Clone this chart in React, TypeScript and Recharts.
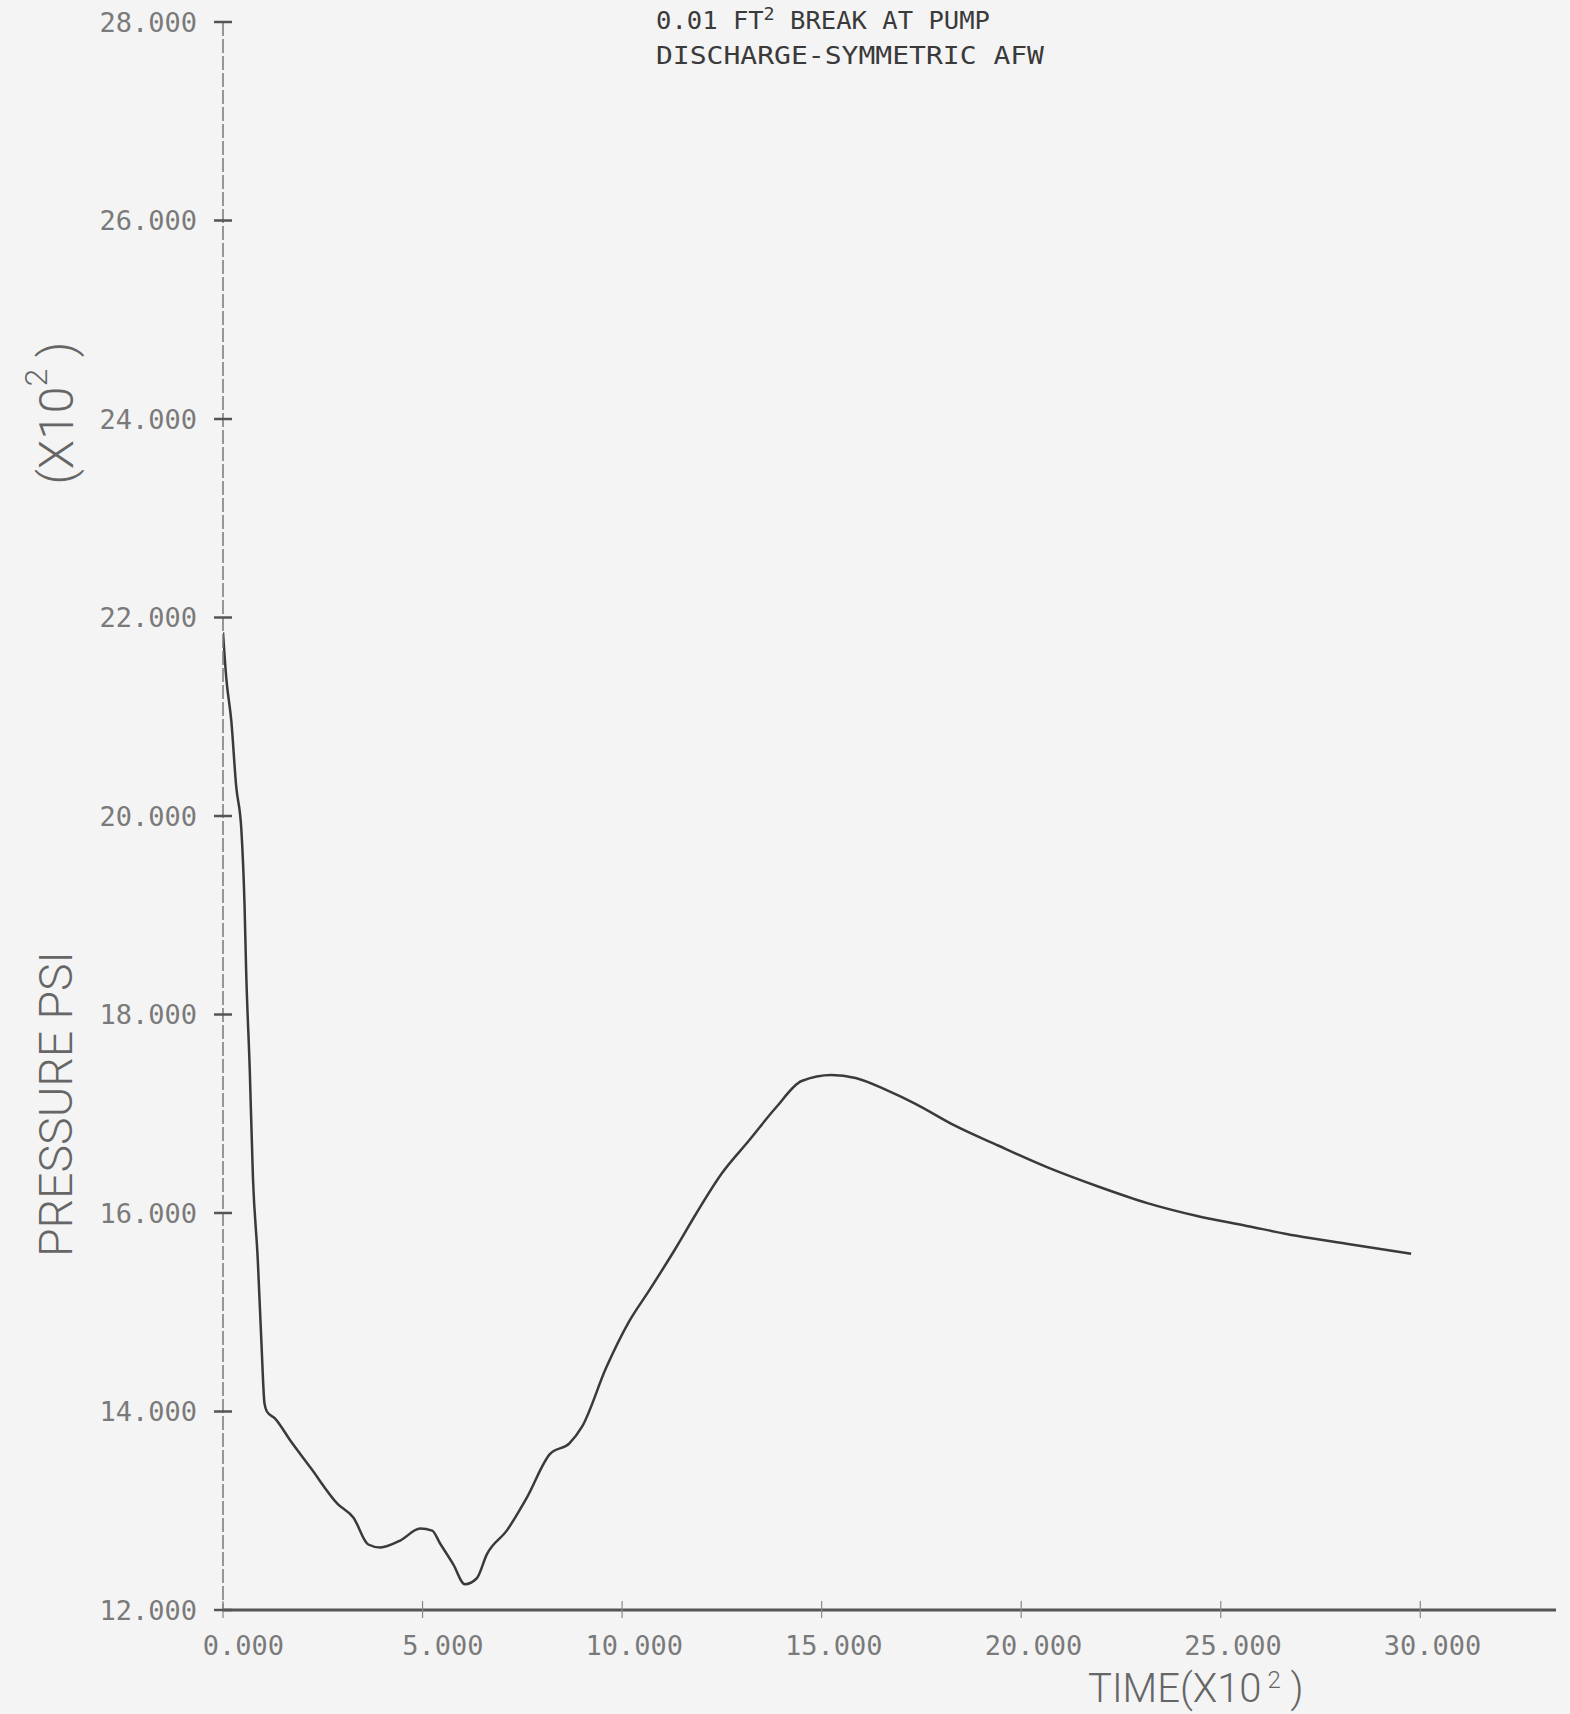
import React from 'react';
import { LineChart, Line, XAxis, YAxis } from 'recharts';

// time (x10^2 s) and pressure (x10^2 psi)
const times = [
    0.0, 0.08, 0.21, 0.33, 0.46, 0.54, 0.58, 0.67, 0.75, 0.87, 0.96, 1.04, 1.1, 1.3,
    1.7, 2.2, 2.87, 3.27, 3.64, 3.94, 4.44, 4.94, 5.24, 5.44, 5.77, 6.06, 6.36, 6.61,
    7.11, 7.61, 8.19, 8.68, 9.0, 9.6, 10.18, 10.68, 11.35, 11.85, 12.5, 13.18, 13.85,
    14.5, 15.25, 15.85, 16.67, 17.35, 18.34, 19.42, 20.66, 21.91, 23.16, 24.41, 25.65,
    26.9, 28.15, 29.77
];
const pressures = [
    21.85, 21.4, 20.95, 20.3, 19.86, 19.1, 18.44, 17.45, 16.36, 15.54, 14.72, 14.08, 14.0, 13.93,
    13.7, 13.43, 13.07, 12.93, 12.66, 12.63, 12.7, 12.82, 12.8, 12.67, 12.46, 12.26, 12.32, 12.56,
    12.8, 13.13, 13.57, 13.68, 13.85, 14.44, 14.91, 15.22, 15.65, 15.99, 16.4, 16.73, 17.06,
    17.33, 17.39, 17.36, 17.23, 17.1, 16.88, 16.68, 16.46, 16.27, 16.1, 15.97, 15.87,
    15.77, 15.69, 15.59
];
const xTicks = [0, 5, 10, 15, 20, 25, 30];
const yTicks = [12, 14, 16, 18, 20, 22, 24, 26, 28];

const data = times.map((t, i) => ({ t, p: pressures[i] }));

const W = 1570;
const H = 1714;
const MONO = '"DejaVu Sans Mono", "Liberation Mono", monospace';
const THIN = 'Roboto, "DejaVu Sans", sans-serif';

const YTick = ({ x, y, payload }: any) => (
    <g>
        <line x1={x - 9} x2={x + 9} y1={y} y2={y} stroke="#555" strokeWidth={2.5} />
        <text x={x - 26} y={y} textAnchor="end" dominantBaseline="central"
            fontFamily={MONO} fontSize={27} fill="#7a7a7a">
            {payload.value.toFixed(3)}
        </text>
    </g>
);

const XTick = ({ x, y, payload }: any) => (
    <g>
        <line x1={x} x2={x} y1={y - 9} y2={y + 8} stroke="#888" strokeWidth={1.2} />
        <text x={x + 61} y={y + 35} textAnchor="end" dominantBaseline="central"
            fontFamily={MONO} fontSize={27} fill="#7a7a7a">
            {payload.value.toFixed(3)}
        </text>
    </g>
);

export default function App() {
    return (
        <div style={{ position: 'absolute', left: 0, top: 0, width: W, height: H, background: '#f4f4f4' }}>
            <LineChart width={W} height={H} data={data}
                margin={{ top: 22, right: 14, bottom: 44, left: 0 }}>
                <XAxis
                    dataKey="t"
                    type="number"
                    domain={[0, 33.4]}
                    ticks={xTicks}
                    interval={0}
                    height={60}
                    tickSize={0}
                    tickMargin={0}
                    tickLine={false}
                    axisLine={{ stroke: '#555', strokeWidth: 3 }}
                    tick={<XTick />}
                    allowDataOverflow
                />
                <YAxis
                    type="number"
                    domain={[12, 28]}
                    ticks={yTicks}
                    interval={0}
                    width={223}
                    tickSize={0}
                    tickMargin={0}
                    tickLine={false}
                    axisLine={{ stroke: '#777', strokeWidth: 1.5, strokeDasharray: '14 3' }}
                    tick={<YTick />}
                    allowDataOverflow
                />
                <Line
                    type="monotone"
                    dataKey="p"
                    stroke="#3a3a3a"
                    strokeWidth={2.5}
                    dot={false}
                    isAnimationActive={false}
                />
            </LineChart>

            <svg width={W} height={H} style={{ position: 'absolute', left: 0, top: 0, pointerEvents: 'none' }}>
                {/* title */}
                <text x={656} y={29} fontFamily={MONO} fontSize={25} fill="#3a3a3a" textLength={334} lengthAdjust="spacingAndGlyphs">
                    0.01 FT<tspan dy={-9} fontSize={18}>2</tspan><tspan dy={9}> BREAK AT PUMP</tspan>
                </text>
                <text x={656} y={64} fontFamily={MONO} fontSize={25} fill="#3a3a3a" textLength={388} lengthAdjust="spacingAndGlyphs">
                    DISCHARGE-SYMMETRIC AFW
                </text>

                {/* y axis title */}
                <g transform="translate(56,1104) rotate(-90)">
                    <text x={0} y={0} textAnchor="middle" dominantBaseline="central"
                        fontFamily={THIN} fontWeight={300} fontSize={46} fill="#666"
                        textLength={306} lengthAdjust="spacingAndGlyphs">
                        PRESSURE  PSI
                    </text>
                </g>
                <g transform="translate(56,413) rotate(-90)">
                    <text x={0} y={0} textAnchor="middle" dominantBaseline="central"
                        fontFamily={THIN} fontWeight={300} fontSize={48} fill="#666">
                        (X10<tspan dy={-20} fontSize={32}>2</tspan><tspan dy={20}> )</tspan>
                    </text>
                </g>

                {/* x axis title */}
                <text x={1088} y={1702} fontFamily={THIN} fontWeight={300} fontSize={40} fill="#666">
                    TIME(X10<tspan dx={6} dy={-14} fontSize={24}>2</tspan><tspan dy={14}> )</tspan>
                </text>
            </svg>
        </div>
    );
}
